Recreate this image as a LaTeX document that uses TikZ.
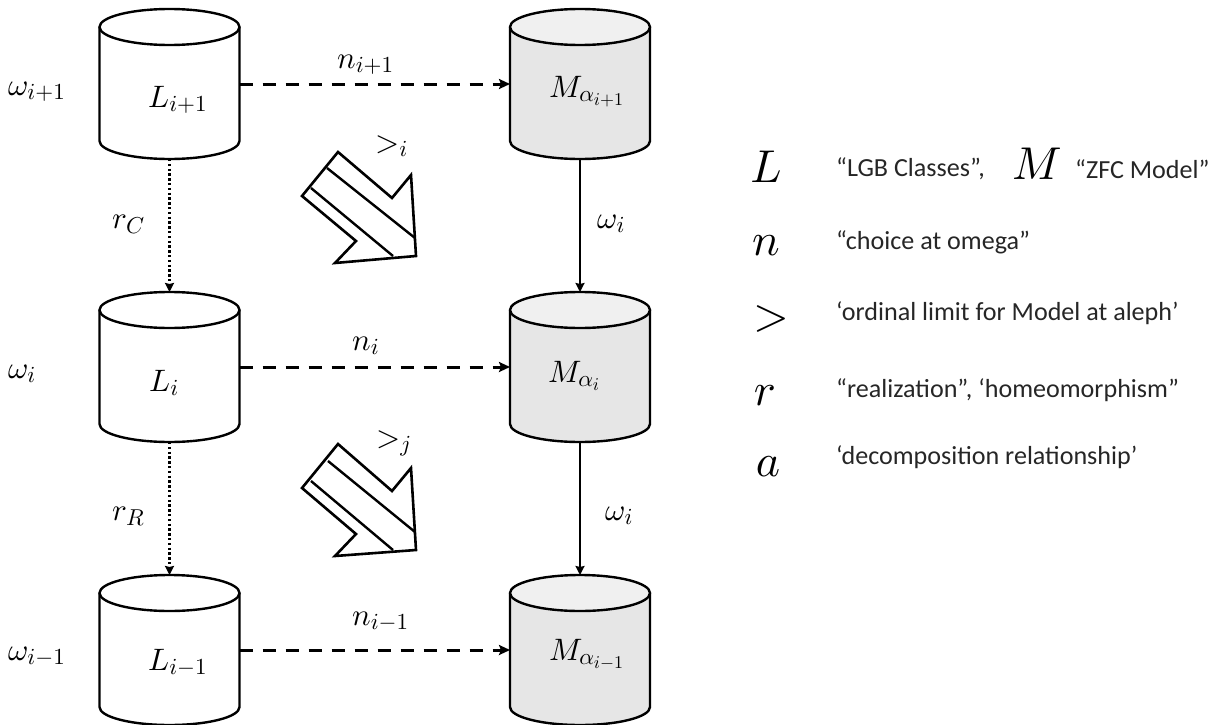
\documentclass[tikz,border=0pt]{standalone}
\usepackage[no-math]{fontspec}
\setmainfont{Carlito}
\usetikzlibrary{arrows.meta}
\DeclareFontShape{OML}{cmm}{m}{it}{<->cmmi10}{}
\DeclareFontShape{OMS}{cmsy}{m}{n}{<->cmsy10}{}
\DeclareFontShape{OT1}{cmr}{m}{n}{<->cmr10}{}
\DeclareMathSizes{31}{31}{23}{18}
\DeclareMathSizes{46}{46}{32}{23}
\definecolor{mfill}{HTML}{E6E6E6}
\definecolor{mtop}{HTML}{F0F0F0}
\definecolor{txt}{HTML}{262626}
\tikzset{
  cyl/.style={rectangle,minimum width=140pt,minimum height=150pt,inner sep=0pt,outer sep=0pt},
  cylline/.style={draw=black,line width=2.4pt,line join=round},
  mapping/.style={line width=3pt,dash pattern=on 13pt off 10pt,-{Stealth[length=11pt,width=10pt,inset=2pt]}},
  real/.style={line width=2.4pt,dash pattern=on 2.4pt off 2.4pt,-{Stealth[length=9pt,width=9pt,inset=1pt]}},
  omeg/.style={line width=2pt,-{Stealth[length=9pt,width=9pt,inset=1pt]}},
  lab/.style={inner sep=0pt,anchor=base west,font=\fontsize{31}{34}\selectfont},
  sym/.style={inner sep=0pt,font=\fontsize{46}{50}\selectfont},
  note/.style={inner sep=0pt,anchor=west,text=txt,font=\fontsize{26.1}{30}\selectfont},
  block/.style={draw=black,line width=2.6pt,fill=white,line join=miter},
  blockline/.style={line width=2.4pt}
}
\newcommand\cylshape[3]{%
  \path[cylline,fill=#2] ([yshift=-18pt]#1.north west) -- ([yshift=18pt]#1.south west)
    arc[start angle=180,end angle=360,x radius=70pt,y radius=18pt]
    -- ([yshift=-18pt]#1.north east) -- cycle;
  \path[cylline,fill=#3] ([yshift=-18pt]#1.north) ellipse[x radius=70pt,y radius=18pt];
}
\begin{document}
\begin{tikzpicture}[x=1pt,y=-1pt]
\useasboundingbox (0,0) rectangle (1220,725);
\node[cyl] (L1) at (169.5,84) {};
\node[cyl] (L2) at (169.5,367) {};
\node[cyl] (L3) at (169.5,650) {};
\node[cyl] (M1) at (580,84) {};
\node[cyl] (M2) at (580,367) {};
\node[cyl] (M3) at (580,650) {};
\cylshape{L1}{white}{white}
\cylshape{L2}{white}{white}
\cylshape{L3}{white}{white}
\cylshape{M1}{mfill}{mtop}
\cylshape{M2}{mfill}{mtop}
\cylshape{M3}{mfill}{mtop}
\node[lab] (tL1) at (148,107) {$L_{i+1}$};
\node[lab] (tL2) at (149,391) {$L_{i}$};
\node[lab] (tL3) at (148,670) {$L_{i-1}$};
\node[lab] (tM1) at (549,97) {$M_{\alpha_{i+1}}$};
\node[lab] (tM2) at (548,382) {$M_{\alpha_{i}}$};
\node[lab] (tM3) at (549,660) {$M_{\alpha_{i-1}}$};
\node[lab] (w1) at (8,95) {$\omega_{i+1}$};
\node[lab] (w2) at (8,378) {$\omega_{i}$};
\node[lab] (w3) at (8,660) {$\omega_{i-1}$};
\draw[mapping] (L1.east) -- (M1.west);
\draw[mapping] (L2.east) -- (M2.west);
\draw[mapping] (L3.east) -- (M3.west);
\draw[real] (L1.south) -- (L2.north);
\draw[real] (L2.south) -- (L3.north);
\draw[omeg] (M1.south) -- (M2.north);
\draw[omeg] (M2.south) -- (M3.north);
\node[lab] (n1) at (337,68) {$n_{i+1}$};
\node[lab] (n2) at (352,350) {$n_{i}$};
\node[lab] (n3) at (352,625) {$n_{i-1}$};
\node[lab] (rC) at (112,228) {$r_{C}$};
\node[lab] (rR) at (112,520) {$r_{R}$};
\node[lab] (o1) at (597,228) {$\omega_{i}$};
\node[lab] (o2) at (605,520) {$\omega_{i}$};
% block arrows
\draw[block] (338,152) -- (392,198) -- (411,175) -- (416,256) -- (335,263) -- (356,241) -- (302,196) -- cycle;
\draw[blockline] (327,168) -- (415,238) (311,188) -- (393,256);
\draw[block] (338,444) -- (392,491) -- (411,468) -- (416,550) -- (335,556) -- (356,534) -- (302,488) -- cycle;
\draw[blockline] (328,461) -- (415,532) (311,481) -- (393,550);
\node[lab] (g1) at (375,152) {$>_{i}$};
\node[lab] (g2) at (376,447) {$>_{j}$};
% legend
\node[sym] (sL) at (766,167) {$L$};
\node[sym] (sM) at (1037,164) {$M$};
\node[sym] (sn) at (766,246) {$n$};
\node[sym] (sg) at (771,319) {$>$};
\node[sym] (sr) at (765,396) {$r$};
\node[sym] (sa) at (768,467) {$a$};
\node[note] (d1) at (836,169) {“LGB Classes”,};
\node[note] (d1b) at (1075,169) {“ZFC Model”};
\node[note] (d2) at (836,242) {“choice at omega”};
\node[note] (d3) at (836,313) {‘ordinal limit for Model at aleph’};
\node[note] (d4) at (836,390) {“realization”, ‘homeomorphism”};
\node[note] (d5) at (836,457) {‘decomposition relationship’};
\end{tikzpicture}
\end{document}
